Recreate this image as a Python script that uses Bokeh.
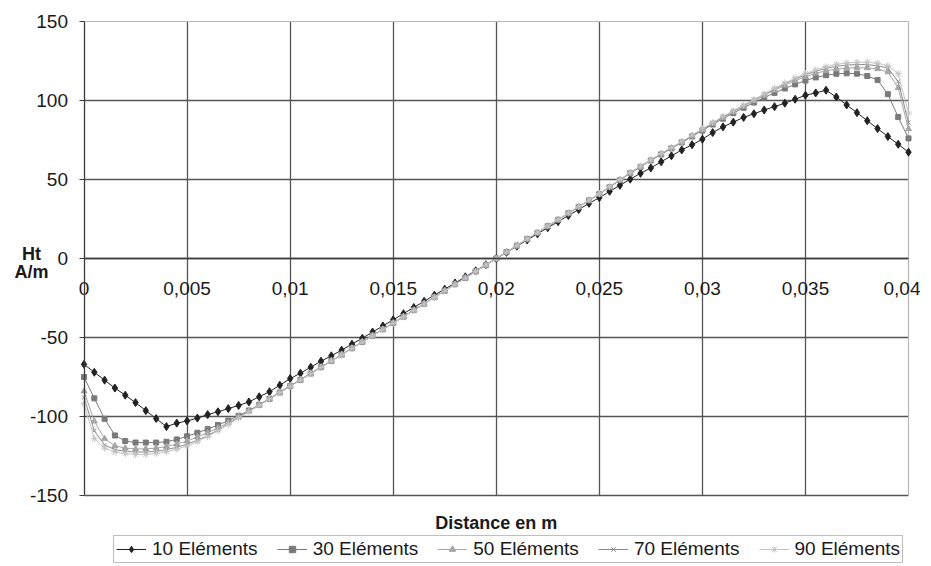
from bokeh.plotting import figure
from bokeh.models import FixedTicker, Legend, LegendItem, Label, Range1d, Grid
from bokeh.embed import file_html
from bokeh.resources import INLINE

# ---------------- data ----------------
distance_m = [0.0, 0.0005, 0.001, 0.0015, 0.002, 0.0025, 0.003, 0.0035, 0.004, 0.0045,
              0.005, 0.0055, 0.006, 0.0065, 0.007, 0.0075, 0.008, 0.0085, 0.009, 0.0095,
              0.01, 0.0105, 0.011, 0.0115, 0.012, 0.0125, 0.013, 0.0135, 0.014, 0.0145,
              0.015, 0.0155, 0.016, 0.0165, 0.017, 0.0175, 0.018, 0.0185, 0.019, 0.0195,
              0.02,
              0.0205, 0.021, 0.0215, 0.022, 0.0225, 0.023, 0.0235, 0.024, 0.0245, 0.025,
              0.0255, 0.026, 0.0265, 0.027, 0.0275, 0.028, 0.0285, 0.029, 0.0295, 0.03,
              0.0305, 0.031, 0.0315, 0.032, 0.0325, 0.033, 0.0335, 0.034, 0.0345, 0.035,
              0.0355, 0.036, 0.0365, 0.037, 0.0375, 0.038, 0.0385, 0.039, 0.0395, 0.04]

ht_10 = [-67, -72, -77, -82, -86.5, -91.2, -96.3, -101.3, -106.4, -104.2,
         -102.8, -101, -98.8, -97, -95, -93, -90.8, -87.5, -84.3, -80.2,
         -76, -72.6, -68.8, -65, -61.6, -58, -54.2, -50.5, -46.5, -42.7,
         -38.8, -34.9, -31, -27.1, -23.2, -19.4, -15.5, -11.6, -7.8, -3.9,
         0,
         3.9, 7.8, 11.7, 15.6, 19.5, 23.3, 27.2, 31, 34.9, 38.5,
         42.5, 46.3, 50.2, 53.9, 57.3, 61.2, 65, 68.7, 72, 75.5,
         79.7, 83.3, 86.3, 89.3, 91.6, 94, 96.1, 98.3, 100.8, 103.3,
         104.8, 106.5, 102.2, 97.2, 92.3, 87.2, 82.2, 77.2, 72.3, 67.3]

ht_30 = [-75, -88.5, -101.5, -112, -115.5, -116.5, -116.5, -116.5, -116, -114.5,
         -112.5, -110.3, -108, -105.4, -102.6, -99.5, -96.2, -92.6, -88.8, -84.8,
         -80.8, -76.8, -72.8, -68.8, -64.8, -60.8, -56.8, -52.8, -48.8, -44.8,
         -40.8, -36.8, -32.7, -28.6, -24.5, -20.4, -16.3, -12.3, -8.2, -4.1,
         0,
         4.1, 8.2, 12.3, 16.3, 20.4, 24.5, 28.6, 32.7, 36.8, 40.8,
         45.2, 49.6, 54, 58, 62, 65.9, 69.7, 73.4, 77.2, 81,
         84.8, 88.5, 92, 95.4, 98.7, 101.8, 104.8, 107.6, 110.2, 112.6,
         114.6, 116, 116.9, 117.2, 117, 115.5, 113, 104, 89.5, 76]

ht_50 = [-84, -103, -114, -118.5, -120, -120.5, -120.5, -120, -119, -117.5,
         -115.5, -113, -110.3, -107.2, -103.8, -100.2, -96.4, -92.5, -88.6, -84.6,
         -80.6, -76.6, -72.6, -68.7, -64.7, -60.7, -56.7, -52.7, -48.7, -44.8,
         -40.8, -36.8, -32.7, -28.6, -24.5, -20.4, -16.3, -12.3, -8.2, -4.1,
         0,
         4.1, 8.2, 12.3, 16.3, 20.4, 24.5, 28.6, 32.7, 36.8, 40.8,
         45.2, 49.7, 54.1, 58.1, 62.1, 66.1, 69.9, 73.6, 77.5, 81.5,
         85.5, 89.3, 92.8, 96.3, 99.8, 103.2, 106.5, 109.6, 112.5, 115.1,
         117.2, 118.8, 119.9, 120.5, 120.8, 120.6, 120, 118, 108, 82]

ht_70 = [-88, -109, -118, -121, -122, -122.5, -122.5, -122, -121, -119.5,
         -117.5, -115, -112, -108.5, -104.7, -100.8, -96.8, -92.8, -88.8, -84.8,
         -80.8, -76.8, -72.8, -68.9, -64.9, -60.9, -56.9, -52.9, -48.9, -44.9,
         -40.9, -36.9, -32.8, -28.7, -24.6, -20.5, -16.4, -12.3, -8.2, -4.1,
         0,
         4.1, 8.2, 12.3, 16.4, 20.5, 24.6, 28.7, 32.8, 36.9, 40.9,
         45.3, 49.8, 54.3, 58.3, 62.3, 66.3, 70.1, 73.8, 77.8, 81.8,
         85.8, 89.6, 93.2, 96.8, 100.4, 103.9, 107.3, 110.5, 113.5, 116.2,
         118.5, 120.3, 121.6, 122.4, 122.8, 122.7, 122, 120.5, 112, 86]

ht_90 = [-92, -114, -120, -122.5, -123.5, -124, -124, -123.4, -122.3, -120.7,
         -118.6, -115.9, -112.7, -109, -105, -101, -97, -93, -89, -85,
         -81, -77, -73, -69, -65, -61, -57, -53, -49, -45,
         -41, -37, -32.9, -28.8, -24.7, -20.6, -16.5, -12.4, -8.2, -4.1,
         0,
         4.1, 8.2, 12.4, 16.5, 20.6, 24.7, 28.8, 32.9, 37, 41,
         45.5, 50, 54.5, 58.5, 62.5, 66.5, 70.3, 74, 78, 82,
         86, 89.8, 93.4, 97, 100.6, 104.2, 107.7, 111, 114.2, 117,
         119.4, 121.4, 122.9, 123.8, 124.2, 124.2, 123.6, 122, 117, 92]

series_names = ["10 Eléments", "30 Eléments", "50 Eléments", "70 Eléments", "90 Eléments"]
series_values = [ht_10, ht_30, ht_50, ht_70, ht_90]

x_tick_values = [0, 0.005, 0.01, 0.015, 0.02, 0.025, 0.03, 0.035, 0.04]
x_tick_labels = ["0", "0,005", "0,01", "0,015", "0,02", "0,025", "0,03", "0,035", "0,04"]
y_tick_values = [-150, -100, -50, 0, 50, 100, 150]
y_tick_labels = ["-150", "-100", "-50", "0", "50", "100", "150"]

x_title = "Distance en m"
y_title_lines = ["Ht", "A/m"]

# ---------------- layout (pixels) ----------------
W, H = 920, 564
PLOT_L, PLOT_R, PLOT_T, PLOT_B = 83.5, 908.0, 21.0, 495.0   # plot-area box in px

x0, x1 = x_tick_values[0], x_tick_values[-1]
y0, y1 = y_tick_values[0], y_tick_values[-1]
kx = (PLOT_R - PLOT_L) / (x1 - x0)
ky = (PLOT_B - PLOT_T) / (y1 - y0)
x_range = Range1d(x0 - PLOT_L / kx, x1 + (W - PLOT_R) / kx)
y_range = Range1d(y0 - (H - PLOT_B) / ky, y1 + PLOT_T / ky)

# ---------------- styling ----------------
FONT = "Liberation Sans"
TEXT_COLOR = "#1a1a1a"
AXIS_COLOR = "#3a3a3a"
GRID_COLOR = "#555555"
BORDER_LIGHT = "#b8b8b8"
series_colors = ["#222222", "#7a7a7a", "#a6a6a6", "#8c8c8c", "#c4c4c4"]
series_markers = ["diamond", "square", "triangle", "x", "asterisk"]
series_msizes = [8, 5, 6, 6, 7]

p = figure(width=W, height=H, output_backend="svg", toolbar_location=None,
           x_range=x_range, y_range=y_range, min_border=0)
p.background_fill_color = "white"
p.border_fill_color = "white"
p.outline_line_color = None

# axes: both cross at the origin, limited to the plot box
p.xaxis.ticker = FixedTicker(ticks=x_tick_values)
p.xaxis.major_label_overrides = dict(zip(x_tick_values, x_tick_labels))
p.xaxis.fixed_location = 0
p.xaxis.bounds = (x0, x1)
p.xaxis.major_tick_in = 0
p.xaxis.major_tick_out = 0
p.xaxis.minor_tick_line_color = None
p.xaxis.major_label_standoff = 23
p.xaxis.axis_line_color = AXIS_COLOR
p.xaxis.axis_line_width = 1.3

p.yaxis.ticker = FixedTicker(ticks=y_tick_values)
p.yaxis.major_label_overrides = dict(zip(y_tick_values, y_tick_labels))
p.yaxis.fixed_location = x0
p.yaxis.bounds = (y0, y1)
p.yaxis.major_tick_in = 0
p.yaxis.major_tick_out = 5
p.yaxis.major_tick_line_color = AXIS_COLOR
p.yaxis.minor_tick_line_color = None
p.yaxis.major_label_standoff = 11
p.yaxis.axis_line_color = AXIS_COLOR
p.yaxis.axis_line_width = 1.3

for ax in (p.xaxis, p.yaxis):
    ax.major_label_text_font = FONT
    ax.major_label_text_font_size = "19px"
    ax.major_label_text_color = TEXT_COLOR

# grids limited to the plot box
p.xgrid.visible = False
p.ygrid.visible = False
p.add_layout(Grid(dimension=0, ticker=FixedTicker(ticks=x_tick_values[1:-1]),
                  cross_bounds=(y0, y1), grid_line_color=GRID_COLOR, grid_line_width=1.3))
p.add_layout(Grid(dimension=1, ticker=FixedTicker(ticks=y_tick_values[:-1]),
                  cross_bounds=(x0, x1), grid_line_color=GRID_COLOR, grid_line_width=1.3))
p.add_layout(Grid(dimension=0, ticker=FixedTicker(ticks=x_tick_values[-1:]),
                  cross_bounds=(y0, y1), grid_line_color=BORDER_LIGHT, grid_line_width=1.2))
p.add_layout(Grid(dimension=1, ticker=FixedTicker(ticks=y_tick_values[-1:]),
                  cross_bounds=(x0, x1), grid_line_color=BORDER_LIGHT, grid_line_width=1.2))

# series
items = []
for name, vals, col, mk, ms in zip(series_names, series_values, series_colors,
                                    series_markers, series_msizes):
    lr = p.line(distance_m, vals, line_color=col, line_width=1)
    sr = p.scatter(distance_m, vals, marker=mk, size=ms, fill_color=col,
                   line_color=col, line_width=1)
    items.append(LegendItem(label=name, renderers=[lr, sr]))

legend = Legend(items=items, orientation="horizontal", location=(113, 1),
                border_line_color="#7f7f7f", border_line_width=1,
                background_fill_color="white", background_fill_alpha=1,
                padding=2, spacing=19, margin=0,
                glyph_width=30, glyph_height=16, label_standoff=6,
                label_text_font=FONT, label_text_font_size="19px",
                label_text_color=TEXT_COLOR, label_height=16)
p.add_layout(legend)

# axis titles
x_mid = (x0 + x1) / 2
p.add_layout(Label(x=x_mid, y=y0, y_offset=-27, text=x_title,
                   text_align="center", text_baseline="middle",
                   text_font=FONT, text_font_size="18px", text_font_style="bold",
                   text_color=TEXT_COLOR))
p.add_layout(Label(x=x0, y=0, x_offset=-52.5, y_offset=4.5,
                   text=y_title_lines[0], text_align="center", text_baseline="middle",
                   text_font=FONT, text_font_size="18px", text_font_style="bold",
                   text_color=TEXT_COLOR))
p.add_layout(Label(x=x0, y=0, x_offset=-52.5, y_offset=-13.5,
                   text=y_title_lines[1], text_align="center", text_baseline="middle",
                   text_font=FONT, text_font_size="18px", text_font_style="bold",
                   text_color=TEXT_COLOR))

open("out.html", "w").write(file_html(p, INLINE))
